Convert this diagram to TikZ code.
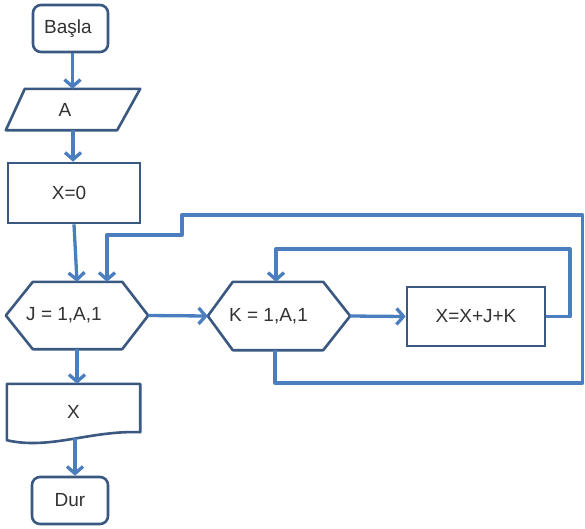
\documentclass[tikz,border=0pt]{standalone}
\usepackage{fontspec}
\setmainfont{Liberation Sans}
\usetikzlibrary{arrows.meta}
\definecolor{conncol}{RGB}{74,126,190}
\definecolor{edgecol}{RGB}{58,88,128}
\definecolor{txtcol}{RGB}{50,50,50}
\begin{document}
\begin{tikzpicture}[x=1pt,y=-1pt,
  txt/.style={text=txtcol, font=\fontsize{19}{22}\selectfont, inner sep=0pt},
  box/.style={txt, draw=edgecol, line width=2.6pt},
  ghost/.style={txt},
  shp/.style={draw=edgecol, line width=2.6pt, line join=round},
  conn/.style={draw=conncol, line width=3.3pt, line join=round,
    -{Straight Barb[length=7pt,width=16pt]}}]
\useasboundingbox (0,0) rectangle (585,528);

% nodes
\node[box, rounded corners=8pt, minimum width=75pt, minimum height=47pt] (basla) at (70.5,28.5) {Başla\hspace*{5pt}};

\node[ghost, minimum width=134pt, minimum height=41pt] (A) at (73,109.5) {A\hspace*{16pt}};
\draw[shp] ([xshift=19pt]A.north west) -- (A.north east) -- ([xshift=-23pt]A.south east) -- (A.south west) -- cycle;

\node[box, minimum width=132pt, minimum height=60pt] (X0) at (74,193) {X=0\hspace*{10pt}};

\node[ghost, minimum width=142pt, minimum height=67pt] (J) at (77,315.5) {J = 1,A,1\hspace*{26pt}};
\draw[shp] (J.west) -- ([xshift=27pt]J.north west) -- ([xshift=-26pt]J.north east) -- (J.east) -- ([xshift=-26pt]J.south east) -- ([xshift=27pt]J.south west) -- cycle;

\node[ghost, minimum width=142pt, minimum height=68pt] (K) at (279,316) {K = 1,A,1\hspace*{21pt}};
\draw[shp] (K.west) -- ([xshift=25pt]K.north west) -- ([xshift=-27pt]K.north east) -- (K.east) -- ([xshift=-27pt]K.south east) -- ([xshift=25pt]K.south west) -- cycle;

\node[box, minimum width=138pt, minimum height=59pt] (S) at (476,316.5) {X=X+J+K};

\node[ghost, minimum width=133pt, minimum height=56pt] (Xd) at (73.5,412) {X};
\draw[shp] (Xd.south west) -- (Xd.north west) -- (Xd.north east) -- ([yshift=8pt]Xd.south east)
  .. controls ([xshift=-50pt,yshift=10pt]Xd.south east) and ([xshift=43pt,yshift=-10pt]Xd.south west) .. (Xd.south west) -- cycle;

\node[box, rounded corners=8pt, minimum width=76pt, minimum height=47pt] (dur) at (70,500.5) {Dur};

% connectors
\draw[conn] ([xshift=2pt]basla.south) -- ([xshift=2pt]basla.south |- A.north);
\draw[conn] (A.south) -- (A.south |- X0.north);
\draw[conn] (X0.south) -- (J.north);
\draw[conn] (J.south) -- (J.south |- Xd.north);
\draw[conn] ([xshift=1.5pt,yshift=2pt]Xd.south) -- ([xshift=1.5pt]Xd.south |- dur.north);
\draw[conn] (J.east) -- (K.west);
\draw[conn] (K.east) -- (S.west);

\coordinate (i1) at (570,249);
\draw[conn] (S.east) -| (i1) -| ([xshift=-3pt]K.north);

\coordinate (o1) at (582.5,383);
\coordinate (o2) at (182,215);
\coordinate (o3) at (107,235);
\draw[conn] ([xshift=-4pt]K.south) |- (o1) |- (o2) |- (o3) -- (o3 |- J.north);
\end{tikzpicture}
\end{document}
